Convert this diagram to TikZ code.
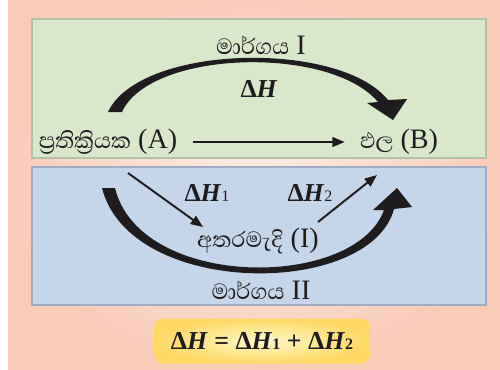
\documentclass[tikz,border=0pt]{standalone}
\usepackage{fontspec}
\setmainfont{Liberation Serif}
\newfontfamily\sinhalafont[Script=Sinhala]{Abhaya Libre}
\usetikzlibrary{arrows.meta}

\definecolor{peach}{RGB}{249,204,184}
\definecolor{peachlight}{RGB}{253,238,230}
\definecolor{greenfill}{RGB}{217,231,203}
\definecolor{greenline}{RGB}{178,192,165}
\definecolor{bluefill}{RGB}{197,213,234}
\definecolor{blueline}{RGB}{160,172,196}
\definecolor{goldedge}{RGB}{255,216,100}
\definecolor{goldlight}{RGB}{255,248,200}
\definecolor{ink}{RGB}{30,28,30}

\newcommand{\dH}{\textbf{Δ\textit{H}}}
\newcommand{\dHsub}[1]{\dH\scalebox{0.62}{#1}}

\begin{document}
\begin{tikzpicture}[x=0.02cm, y=-0.02cm, >={Triangle[length=7pt,width=5.5pt]}, font=\fontsize{16}{18}\selectfont,
  lbl/.style={inner sep=1pt, text=ink},
  routelbl/.style={lbl, font=\fontsize{16}{18}\selectfont},
  dlbl/.style={lbl, font=\fontsize{14.7}{16}\selectfont},
  thinarrow/.style={->, draw=ink, line width=1.1pt},
  bigarrow/.style={fill=ink},
  panel/.style={line width=1pt},
  formula/.style={rounded corners=5pt, inner color=goldlight, outer color=goldedge,
    minimum width=4.3cm, minimum height=0.9cm, text=ink, font=\fontsize{14.7}{17}\selectfont\bfseries}]
  \useasboundingbox (0,0) rectangle (500,369);
  % background and panels
  \fill[white] (0,0) rectangle (500,369);
  \shade[inner color=peachlight, outer color=peach] (8,0) rectangle (500,369);
  \filldraw[panel, fill=greenfill, draw=greenline] (32,19) rectangle (486,158);
  \filldraw[panel, fill=bluefill, draw=blueline] (32,167) rectangle (486,305);

  \node[routelbl] (route1) at (261,45) {{\sinhalafont මාර්ගය} I};
  \node[dlbl] (dH) at (259,89) {\dH};
  \node[lbl] (react) at (108,142) {{\sinhalafont ප්^^^^200dරතික්^^^^200dරියක} (A)};
  \node[lbl] (prod) at (399,142) {{\sinhalafont ඵල} (B)};
  \node[dlbl] (dH1) at (207,193) {\dHsub{1}};
  \node[dlbl] (dH2) at (310,193) {\dHsub{2}};
  \node[lbl] (inter) at (258,241) {{\sinhalafont අතරමැදි} (I)};
  \node[routelbl] (route2) at (261,290) {{\sinhalafont මාර්ගය} II};
  \node[formula] (sum) at (262,341) {\dH{} = \dHsub{1} + \dHsub{2}};

  % direct step
  \draw[thinarrow, shorten <=8pt, shorten >=7.5pt] (react) -- (prod);
  % two steps through the intermediate
  \coordinate (s1a) at (128,173);
  \coordinate (s1b) at (203,227);
  \coordinate (s2a) at (318,222);
  \coordinate (s2b) at (377,175);
  \draw[thinarrow] (s1a) -- (s1b);
  \draw[thinarrow] (s2a) -- (s2b);

  % route I
  \fill[bigarrow] (108,112) .. controls (140,44) and (340,40) .. (388,100)
    -- (407,99) -- (393,120) -- (367,103) -- (378,102)
    .. controls (330,45) and (150,50) .. (122,112) -- cycle;
  % route II
  \fill[bigarrow] (102,188) .. controls (130,298) and (370,298) .. (394,209)
    -- (412,207) -- (397,188) -- (373,210) -- (384,210)
    .. controls (355,290) and (140,290) .. (115,188) -- cycle;
\end{tikzpicture}
\end{document}
